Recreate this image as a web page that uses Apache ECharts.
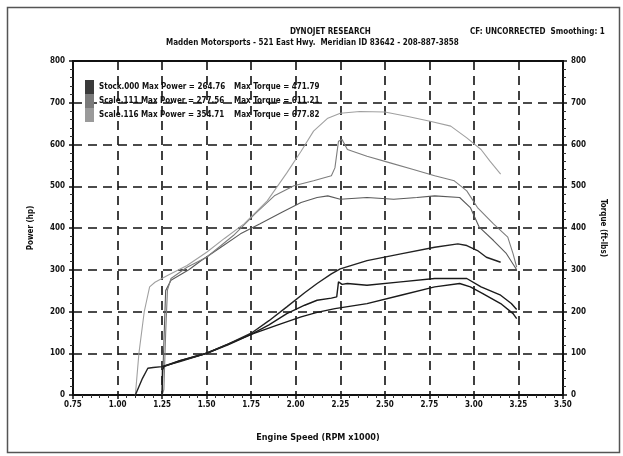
<!DOCTYPE html>
<html><head><meta charset="utf-8">
<script src="https://cdn.jsdelivr.net/npm/echarts@6/dist/echarts.min.js"></script>
<style>html,body{margin:0;padding:0;background:#fff}#c{width:623px;height:456px}</style>
</head><body><div id="c"></div>
<script>
// ---- data ----
const xTicks = [0.75,1.00,1.25,1.50,1.75,2.00,2.25,2.50,2.75,3.00,3.25,3.50];
const runNames = ['Stock.000','Scale.111','Scale.116'];
const maxPower = ['264.76','277.56','354.71'];
const maxTorque = ['471.79','611.21','677.82'];

const tq116X = [1.10,1.12,1.15,1.18,1.21,1.28,1.39,1.50,1.60,1.71,1.84,1.95,2.03,2.10,2.18,2.25,2.36,2.50,2.63,2.76,2.87,2.96,3.04,3.09,3.15];
const tq116Y = [0,100,200,259,270,286,310,342,375,410,465,532,584,632,663,675,679,678,667,655,644,616,588,560,529];

const tq111X = [1.25,1.26,1.27,1.28,1.30,1.39,1.50,1.65,1.77,1.88,1.99,2.10,2.20,2.22,2.24,2.26,2.29,2.40,2.53,2.66,2.78,2.89,2.96,3.02,3.11,3.19,3.22,3.24];
const tq111Y = [0,13,148,251,279,306,330,382,433,477,501,513,525,544,608,612,588,572,556,540,525,513,489,449,410,378,338,306];

const tq000X = [1.25,1.27,1.30,1.40,1.47,1.58,1.69,1.80,1.92,2.03,2.12,2.18,2.25,2.40,2.55,2.68,2.78,2.92,2.98,3.03,3.11,3.18,3.24];
const tq000Y = [0,250,275,300,322,354,386,410,437,461,473,477,469,473,469,473,477,473,449,402,370,340,300];

const pw116X = [1.10,1.14,1.17,1.20,1.25,1.35,1.50,1.62,1.75,1.85,1.95,2.05,2.12,2.20,2.25,2.40,2.59,2.78,2.91,2.96,3.02,3.07,3.15];
const pw116Y = [0,40,64,66,68,80,100,122,148,178,211,245,267,290,302,322,338,354,362,358,346,330,318];

const pw111X = [1.25,1.252,1.26,1.35,1.50,1.62,1.75,1.85,1.95,2.05,2.12,2.20,2.23,2.24,2.26,2.29,2.40,2.59,2.78,2.96,3.04,3.15,3.21,3.24];
const pw111Y = [0,60,68,82,100,122,145,168,195,215,227,232,235,271,265,267,263,271,279,279,259,239,219,205];

const pw000X = [1.25,1.35,1.50,1.62,1.75,1.90,2.03,2.12,2.22,2.40,2.59,2.78,2.92,2.98,3.05,3.15,3.22,3.24];
const pw000Y = [68,82,100,120,145,168,187,198,207,219,239,259,267,259,243,219,195,183];

// ---- build ----
const zip = (a,b) => a.map((v,i)=>[v,b[i]]);
const FONT = '"DejaVu Sans Condensed","Liberation Sans Narrow",sans-serif';
const chart = echarts.init(document.getElementById('c'), null, {renderer:'canvas'});
function line(name, xs, ys, color, w, yIdx){
  return {name, type:'line', data:zip(xs,ys), yAxisIndex:yIdx, showSymbol:false, smooth:false,
    lineStyle:{color, width:w}, itemStyle:{color}, z:3, silent:true, animation:false};
}
const legendColors = ['#3a3a3a','#7a7a7a','#9a9a9a'];
const axisCommon = {
  axisLine:{show:true, lineStyle:{color:'#111', width:2}},
  axisTick:{show:true, length:4, lineStyle:{color:'#111', width:1.5}},
  minorTick:{show:true, splitNumber:5, length:3, lineStyle:{color:'#333', width:1}},
  axisLabel:{color:'#111', fontSize:8, fontWeight:'bold', fontFamily:FONT},
};
const option = {
  backgroundColor:'#fff',
  animation:false,
  grid:{left:73, right:60, top:61, bottom:61, show:true, borderColor:'#111', borderWidth:2},
  legend:{
    orient:'vertical', left:80, top:75, itemWidth:9, itemHeight:14, itemGap:0,
    icon:'rect', selectedMode:false,
    data: runNames.map((n,i)=>({name:n, itemStyle:{color:legendColors[i]}})),
    formatter: n => { const i = runNames.indexOf(n);
      return '{a|'+n+' Max Power = '+maxPower[i]+'}{b|Max Torque = '+maxTorque[i]+'}'; },
    textStyle:{rich:{
      a:{width:135, fontSize:8, fontWeight:'bold', fontFamily:FONT, color:'#111'},
      b:{fontSize:8, fontWeight:'bold', fontFamily:FONT, color:'#111'}
    }}
  },
  xAxis:Object.assign({type:'value', min:0.75, max:3.5, interval:0.25,
    name:'Engine Speed (RPM x1000)', nameLocation:'middle', nameGap:38,
    nameTextStyle:{fontSize:9, fontWeight:'bold', fontFamily:FONT, color:'#111'},
    splitLine:{show:true, lineStyle:{color:'#111', width:1.6, type:[9,6]}}
  }, axisCommon, {axisLabel:Object.assign({}, axisCommon.axisLabel, {formatter:v=>v.toFixed(2), margin:6})}),
  yAxis:[
    Object.assign({type:'value', min:0, max:800, interval:100, position:'left',
      name:'Power (hp)', nameLocation:'middle', nameGap:38, nameRotate:90,
      nameTextStyle:{fontSize:8, fontWeight:'bold', fontFamily:FONT, color:'#111'},
      splitLine:{show:true, lineStyle:{color:'#111', width:1.6, type:[9,6]}}
    }, axisCommon),
    Object.assign({type:'value', min:0, max:800, interval:100, position:'right',
      name:'Torque (ft-lbs)', nameLocation:'middle', nameGap:36, nameRotate:-90,
      nameTextStyle:{fontSize:8, fontWeight:'bold', fontFamily:FONT, color:'#111'},
      splitLine:{show:false}
    }, axisCommon)
  ],
  graphic:[
    {type:'rect', left:5, top:5, shape:{width:612, height:445}, style:{fill:'none', stroke:'#555', lineWidth:1.5}, silent:true},
    {type:'text', left:290, top:28, style:{text:'DYNOJET RESEARCH', font:'bold 8px '+FONT, fill:'#111'}},
    {type:'text', left:470, top:28, style:{text:'CF: UNCORRECTED  Smoothing: 1', font:'bold 8px '+FONT, fill:'#111'}},
    {type:'text', left:166, top:39, style:{text:'Madden Motorsports - 521 East Hwy.  Meridian ID 83642 - 208-887-3858', font:'bold 8px '+FONT, fill:'#111'}}
  ],
  series:[
    line('Stock.000', tq000X, tq000Y, '#5a5a5a', 1.1, 1),
    line('Scale.111', tq111X, tq111Y, '#7d7d7d', 1.1, 1),
    line('Scale.116', tq116X, tq116Y, '#a0a0a0', 1.1, 1),
    line('Stock.000', pw000X, pw000Y, '#1a1a1a', 1.4, 0),
    line('Scale.111', pw111X, pw111Y, '#1a1a1a', 1.4, 0),
    line('Scale.116', pw116X, pw116Y, '#222', 1.4, 0)
  ]
};
chart.setOption(option);
</script></body></html>
